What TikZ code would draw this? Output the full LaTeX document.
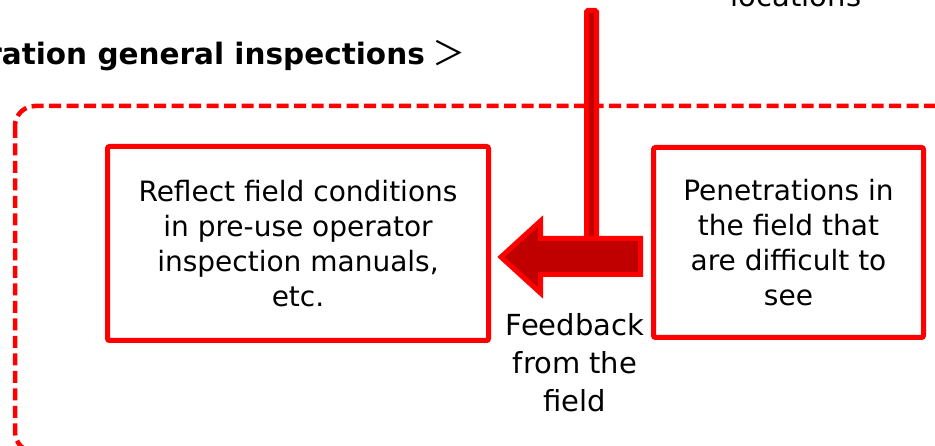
\documentclass[tikz,border=0pt]{standalone}
\usepackage{fontspec}
\setmainfont{DejaVu Sans}
\newfontfamily\cjk{Noto Sans CJK JP}
\definecolor{myred}{HTML}{FF0000}
\definecolor{mydark}{HTML}{C00000}
\begin{document}
\begin{tikzpicture}[x=1pt,y=-1pt,
  redbox/.style={draw=myred, line width=5pt, rounded corners=2pt, inner sep=0pt,
    align=center, font=\fontsize{28}{34.8}\selectfont},
  plain/.style={inner sep=0pt, align=center}]
\useasboundingbox (0,0) rectangle (935,446);
% dashed frame
\draw[myred, line width=4.5pt, dash pattern=on 12pt off 5.5pt, rounded corners=20pt]
  (15,106) rectangle (975,452);
% title
\node[plain, anchor=base east, font=\fontsize{29.5}{34}\selectfont\bfseries] (title) at (425,65) {ration general inspections};
\node[plain, anchor=base west, font=\fontsize{33}{40}\selectfont\cjk] (gt) at (432,66) {＞};
\node[plain, anchor=base, font=\fontsize{29}{34}\selectfont] (loc) at (796,7) {locations};
% boxes
\node[redbox, minimum width=381pt, minimum height=194pt] (left) at (298,243.5)
  {Reflect field conditions\\in pre-use operator\\inspection manuals,\\etc.};
\node[redbox, minimum width=270pt, minimum height=190pt] (right) at (788.5,242.5)
  {Penetrations in\\the field that\\are difficult to\\see};
% stem
\draw[line width=5pt, draw=myred, fill=mydark, rounded corners=1.5pt]
  (586.5,10.5) rectangle (596.5,245);
% block arrow
\draw[line width=5pt, draw=myred, fill=mydark, line join=miter]
  (640.5,238.5) -- (540.5,238.5) -- (540.5,221) -- (501,257) -- (540.5,293)
  -- (540.5,274.5) -- (640.5,274.5) -- cycle;
\node[plain, anchor=north, font=\fontsize{29}{38}\selectfont] (fb) at (575,313)
  {Feedback\\from the\\field};
\end{tikzpicture}
\end{document}
